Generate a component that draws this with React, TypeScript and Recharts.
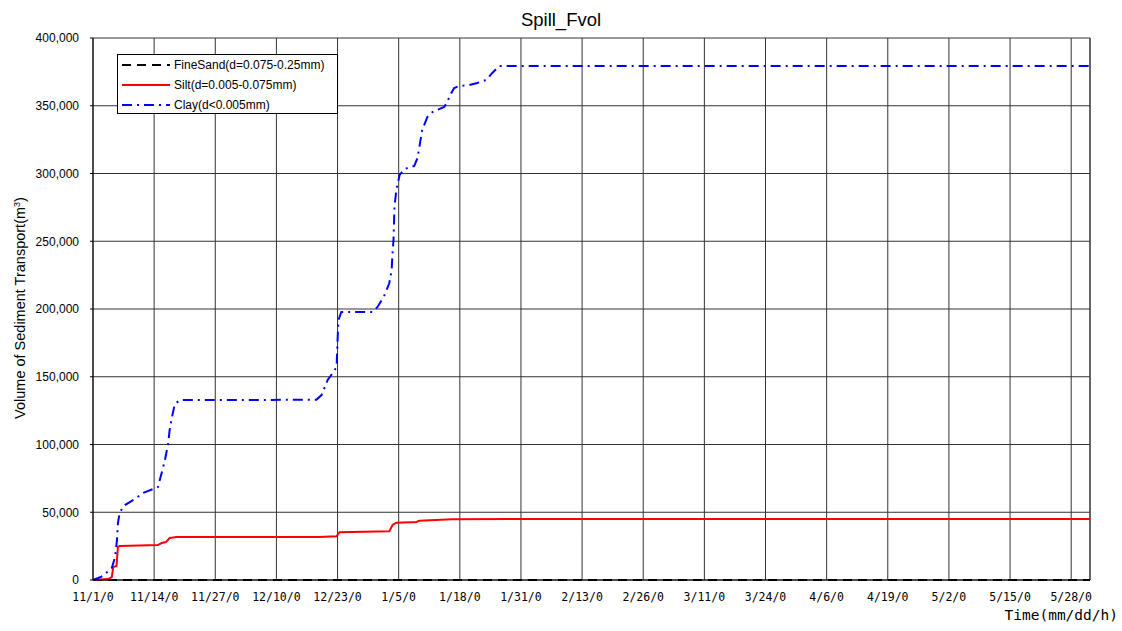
import { LineChart, Line, XAxis, YAxis, CartesianGrid, ReferenceLine } from 'recharts'

// x axis is days since 11/1, ticks every 13 days
const dayTicks = [0, 13, 26, 39, 52, 65, 78, 91, 104, 117, 130, 143, 156, 169, 182, 195, 208]
const dateLabels = [
  '11/1/0', '11/14/0', '11/27/0', '12/10/0', '12/23/0', '1/5/0', '1/18/0', '1/31/0', '2/13/0',
  '2/26/0', '3/11/0', '3/24/0', '4/6/0', '4/19/0', '5/2/0', '5/15/0', '5/28/0',
]
const volTicks = [0, 50000, 100000, 150000, 200000, 250000, 300000, 350000, 400000]

const sandDays = [0, 212]
const sandVol = [0, 0]

const siltDays = [0, 3.2, 4, 4.3, 5, 5.3, 5.7, 13.8, 14.6, 15.5, 16.3, 17.8, 48, 51.8, 52.4, 63, 63.7, 64.5, 68.8, 69.4, 76.4, 90, 212]
const siltVol = [0, 700, 2200, 9600, 10300, 24400, 25100, 25800, 27300, 28000, 31000, 31700, 31800, 32300, 35300, 35900, 40600, 42300, 42800, 43800, 44800, 45000, 45000]

const clayDays = [
  0, 1.5, 2.1, 4, 4.7, 5.1, 5.3, 5.7, 6.8, 8.9, 10.6, 12.8, 13.8, 14.6, 15.3, 16, 16.3, 16.8, 17.4, 18.5,
  47.5, 48.6, 49.9, 51, 51.8, 52, 52.2, 52.8, 59.4, 60.5, 62, 63, 63.5, 63.7, 63.9, 64.1, 64.5, 65.2, 66.2,
  68.3, 69, 69.4, 70, 71.1, 72.2, 73.2, 74.7, 75.3, 76.2, 76.8, 77.9, 80, 81.7, 83.6, 84.9, 86.4, 212,
]
const clayVol = [
  0, 2000, 3000, 8900, 17000, 29500, 42000, 50200, 55300, 59800, 64200, 67200, 68600, 79000, 88600, 101100, 110700, 120300, 129900, 132800,
  133000, 136500, 147600, 152800, 157200, 177000, 191900, 197800, 197800, 201500, 210300, 219000, 228800, 241300, 250900, 275300, 287800, 298900, 303300,
  305500, 311400, 319600, 332100, 341700, 345400, 346900, 349100, 352800, 359400, 363100, 364600, 365300, 366800, 369000, 374200, 379300, 379300,
]

const toPoints = (days: number[], vols: number[]) => days.map((d, i) => ({ day: d, vol: vols[i] }))

const series = [
  { name: 'FineSand(d=0.075-0.25mm)', color: '#000000', dash: '9 6', points: toPoints(sandDays, sandVol) },
  { name: 'Silt(d=0.005-0.075mm)', color: '#ff0000', dash: undefined, points: toPoints(siltDays, siltVol) },
  { name: 'Clay(d<0.005mm)', color: '#0000ff', dash: '10 5 2 5', points: toPoints(clayDays, clayVol) },
]

const labelFont = 'Liberation Sans, Arial, sans-serif'
const gothicFont = 'DejaVu Sans Mono, monospace'

export default function App() {
  return (
    <div style={{ position: 'absolute', left: 0, top: 0, width: 1122, height: 631, background: '#fff' }}>
      <LineChart width={1122} height={631} margin={{ top: 38, right: 32, bottom: 0, left: 0 }}>
        <CartesianGrid stroke="#333" strokeWidth={1} />
        <XAxis
          dataKey="day"
          type="number"
          domain={[0, 212]}
          ticks={dayTicks}
          tickFormatter={(d: number) => dateLabels[dayTicks.indexOf(d)]}
          height={51}
          tickLine={false}
          tickSize={0}
          tickMargin={13}
          interval={0}
          axisLine={{ stroke: '#000' }}
          tick={{ fontSize: 11.5, fill: '#000', fontFamily: gothicFont }}
        />
        <YAxis
          type="number"
          domain={[0, 400000]}
          ticks={volTicks}
          width={93}
          tickSize={3}
          tickMargin={11}
          interval={0}
          axisLine={{ stroke: '#000' }}
          tickLine={{ stroke: '#000' }}
          tickFormatter={(v: number) => v.toLocaleString('en-US')}
          tick={{ fontSize: 12, fill: '#000', fontFamily: labelFont }}
        />
        <ReferenceLine x={212} stroke="#333" />
        {series.map((s) => (
          <Line
            key={s.name}
            data={s.points}
            dataKey="vol"
            name={s.name}
            type="linear"
            stroke={s.color}
            strokeWidth={2}
            strokeDasharray={s.dash}
            dot={false}
            activeDot={false}
            isAnimationActive={false}
          />
        ))}
      </LineChart>

      <div style={{ position: 'absolute', left: 0, width: 1122, top: 8, textAlign: 'center', fontFamily: labelFont, fontSize: 18.5, lineHeight: '24px' }}>
        Spill_Fvol
      </div>

      <div
        style={{
          position: 'absolute', left: 20, top: 308, transform: 'translate(-50%, -50%) rotate(-90deg)',
          whiteSpace: 'nowrap', fontFamily: labelFont, fontSize: 14.5,
        }}
      >
        Volume of Sediment Transport(m<sup style={{ fontSize: 9 }}>3</sup>)
      </div>

      <div style={{ position: 'absolute', right: 4, top: 607, fontFamily: gothicFont, fontSize: 14.5, whiteSpace: 'nowrap' }}>
        Time(mm/dd/h)
      </div>

      <div
        style={{
          position: 'absolute', left: 117, top: 54, width: 221, height: 60, background: '#fff',
          border: '1px solid #000', boxSizing: 'border-box', padding: '0 0 0 4px',
        }}
      >
        {series.map((s) => (
          <div key={s.name} style={{ display: 'flex', alignItems: 'center', height: 20 }}>
            <svg width={49} height={10} style={{ marginRight: 3 }}>
              <line x1={0} y1={5} x2={48} y2={5} stroke={s.color} strokeWidth={2} strokeDasharray={s.dash} />
            </svg>
            <span style={{ fontFamily: labelFont, fontSize: 12, whiteSpace: 'nowrap' }}>{s.name}</span>
          </div>
        ))}
      </div>
    </div>
  )
}
